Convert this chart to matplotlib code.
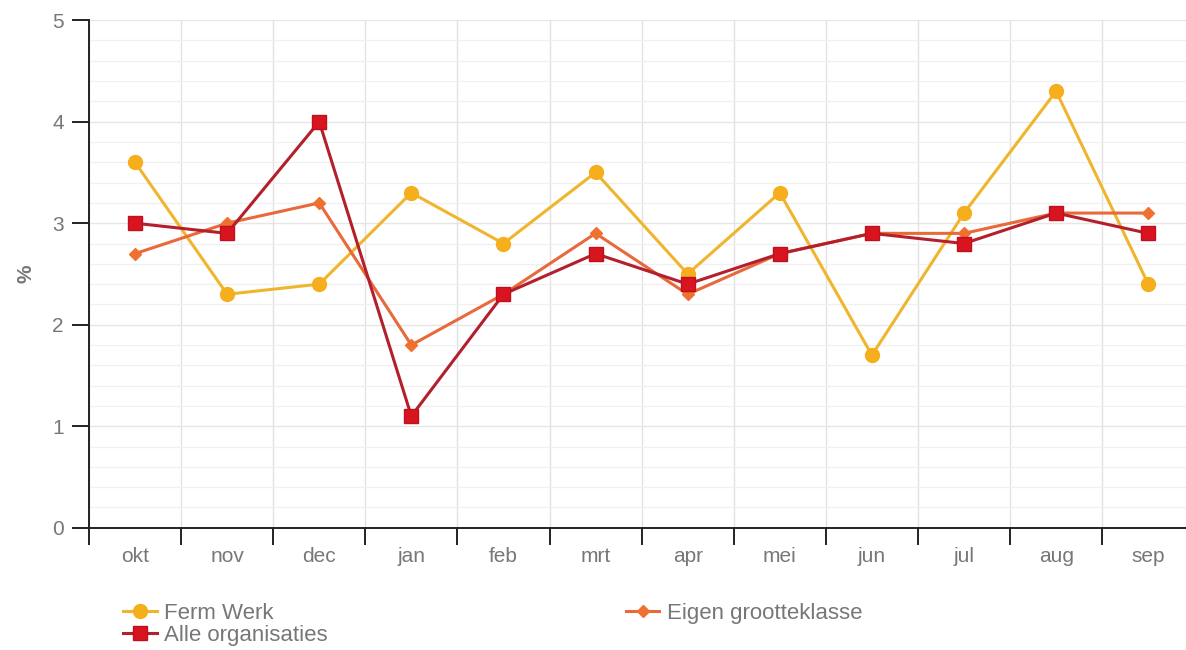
import matplotlib
import numpy as np

matplotlib.use('agg')
import matplotlib.pyplot as plt
from matplotlib.ticker import MultipleLocator, FixedLocator, NullFormatter

plt.rcParams['font.family'] = ['Liberation Sans', 'DejaVu Sans']

months = ['okt', 'nov', 'dec', 'jan', 'feb', 'mrt', 'apr', 'mei', 'jun', 'jul', 'aug', 'sep']
ferm_werk = [3.6, 2.3, 2.4, 3.3, 2.8, 3.5, 2.5, 3.3, 1.7, 3.1, 4.3, 2.4]
alle_org = [3.0, 2.9, 4.0, 1.1, 2.3, 2.7, 2.4, 2.7, 2.9, 2.8, 3.1, 2.9]
eigen_klasse = [2.7, 3.0, 3.2, 1.8, 2.3, 2.9, 2.3, 2.7, 2.9, 2.9, 3.1, 3.1]

x = np.arange(len(months))
grey = '#777777'

fig = plt.figure(figsize=(11.86, 6.5), dpi=100)
ax = fig.add_axes([0.075, 0.188, 0.932, 0.781])

h1, = ax.plot(x, ferm_werk, color='#efb52c', lw=2.2, marker='o', ms=10,
              mfc='#f6ae1c', mec='#f6ae1c', zorder=3, label='Ferm Werk')
h3, = ax.plot(x, eigen_klasse, color='#e8693a', lw=2.2, marker='D', ms=6.5,
              mfc='#f07030', mec='#f07030', zorder=4, label='Eigen grootteklasse')
h2, = ax.plot(x, alle_org, color='#b3202c', lw=2.2, marker='s', ms=10,
              mfc='#d8141f', mec='#c01020', zorder=5, label='Alle organisaties')

ax.set_xlim(-0.5, len(months) - 0.5)
ax.set_ylim(0, 5)

# x: ticks at category borders, labels at centers
ax.xaxis.set_major_locator(FixedLocator(np.arange(-0.5, len(months), 1.0)))
ax.xaxis.set_major_formatter(NullFormatter())
ax.xaxis.set_minor_locator(FixedLocator(x))
ax.set_xticklabels(months, minor=True)
ax.tick_params(axis='x', which='major', length=12, width=1.4, color='#222222')
ax.tick_params(axis='x', which='minor', length=0, pad=14, labelsize=15, labelcolor=grey)

ax.yaxis.set_major_locator(MultipleLocator(1))
ax.yaxis.set_minor_locator(MultipleLocator(0.2))
ax.tick_params(axis='y', which='major', length=12, width=1.4, color='#222222',
               pad=6, labelsize=15, labelcolor=grey)
ax.tick_params(axis='y', which='minor', length=0)

ax.grid(True, axis='x', which='major', color='#e2e2e2', lw=1)
ax.grid(True, axis='y', which='major', color='#e6e6e6', lw=1)
ax.grid(True, axis='y', which='minor', color='#f0f0f0', lw=1)
ax.set_axisbelow(True)

for s in ['top', 'right']:
    ax.spines[s].set_visible(False)
for s in ['left', 'bottom']:
    ax.spines[s].set_color('#222222')
    ax.spines[s].set_linewidth(1.4)

ax.set_ylabel('%', fontsize=15, color=grey, fontweight='bold', labelpad=12)

fig.legend(handles=[h1, h2, h3], loc='upper left', bbox_to_anchor=(0.104, 0.073),
           ncol=2, frameon=False, fontsize=16, labelcolor=grey,
           handlelength=1.5, handletextpad=0.35, columnspacing=13.4,
           labelspacing=0.05, borderaxespad=0, borderpad=0)

plt.savefig('out.png', dpi=100)
plt.close()
